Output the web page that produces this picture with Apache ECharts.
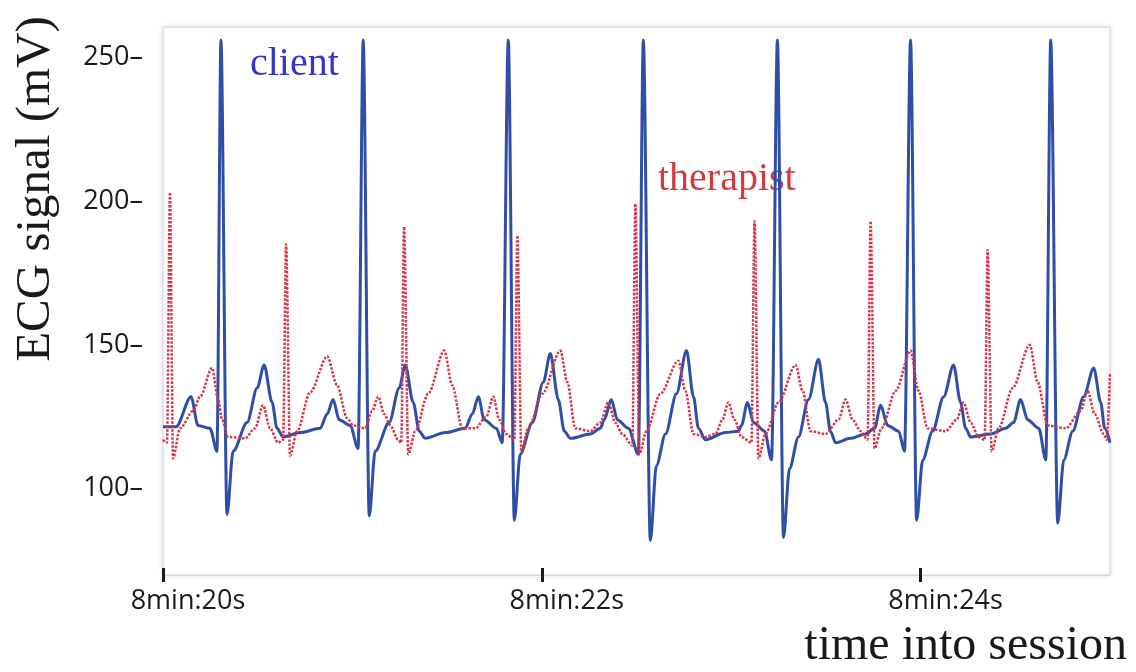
<!DOCTYPE html>
<html>
<head>
<meta charset="utf-8">
<title>ECG signal</title>
<script src="https://cdn.jsdelivr.net/npm/echarts@6/dist/echarts.min.js"></script>
<style>
  html, body { margin: 0; padding: 0; background: #ffffff; }
  #chart { width: 1136px; height: 672px; }
</style>
</head>
<body>
<div id="chart"></div>
<script>
// Time is in seconds into the session (500 s = 8min:20s); signal in mV.
const xTickValues = [500, 502, 504];
const xTickLabels = ['8min:20s', '8min:22s', '8min:24s'];
const yTickValues = [100, 150, 200, 250];

const clientTime = [
  500.000, 500.069, 500.148, 500.185, 500.248, 500.285, 500.306, 500.338, 500.370, 500.444,
  500.497, 500.534, 500.576, 500.602, 500.634, 500.724, 500.830, 500.867, 500.898, 500.930,
  500.988, 501.030, 501.057, 501.089, 501.120, 501.194, 501.247, 501.279, 501.321, 501.353,
  501.384, 501.490, 501.596, 501.633, 501.665, 501.696, 501.760, 501.791, 501.823, 501.855,
  501.886, 501.950, 502.008, 502.045, 502.087, 502.119, 502.151, 502.256, 502.309, 502.330,
  502.367, 502.399, 502.457, 502.510, 502.536, 502.573, 502.605, 502.653, 502.711, 502.764,
  502.801, 502.827, 502.864, 502.970, 503.038, 503.054, 503.086, 503.118, 503.176, 503.213,
  503.244, 503.276, 503.308, 503.355, 503.408, 503.461, 503.498, 503.524, 503.551, 503.630,
  503.709, 503.757, 503.789, 503.826, 503.884, 503.915, 503.947, 503.979, 504.011, 504.063,
  504.122, 504.174, 504.211, 504.238, 504.264, 504.370, 504.449, 504.491, 504.528, 504.565,
  504.624, 504.661, 504.687, 504.724, 504.756, 504.803, 504.861, 504.914, 504.951, 504.972,
  505.000
];
const clientSignal = [
  121.5, 121.5, 132, 122, 121, 113, 256, 91, 113, 123,
  135, 143, 130, 121, 118, 119.5, 121, 126, 131, 124,
  122, 114, 256, 90.5, 113, 123, 135, 143, 130, 120,
  117.5, 119.5, 121, 126, 132, 124, 121, 116, 256, 89,
  112, 123, 137, 147, 131, 120, 117.5, 119, 121, 124,
  131, 124, 121, 112, 256, 82, 108, 119, 133, 148,
  132, 121, 117, 119.5, 120, 122, 130, 123, 120, 110,
  256, 83, 107, 118, 131, 145, 130, 120, 116, 117.5,
  119, 121, 129, 122, 120, 113, 256, 89, 110, 120,
  132, 143, 130, 121, 118, 119, 121, 123, 131, 124,
  121, 110, 256, 88, 110, 120, 132, 142, 130, 121,
  116
];

const therapistTime = [
  500.000, 500.021, 500.037, 500.053, 500.090, 500.159, 500.196, 500.259, 500.291, 500.312,
  500.343, 500.433, 500.486, 500.528, 500.565, 500.608, 500.634, 500.650, 500.671, 500.708,
  500.777, 500.867, 500.919, 500.972, 501.004, 501.067, 501.104, 501.136, 501.168, 501.200,
  501.242, 501.258, 501.273, 501.295, 501.332, 501.400, 501.485, 501.527, 501.580, 501.649,
  501.707, 501.744, 501.775, 501.812, 501.855, 501.871, 501.892, 501.929, 502.003, 502.098,
  502.135, 502.177, 502.256, 502.309, 502.351, 502.388, 502.425, 502.478, 502.494, 502.515,
  502.552, 502.626, 502.721, 502.758, 502.801, 502.864, 502.917, 502.954, 502.985, 503.017,
  503.054, 503.107, 503.123, 503.144, 503.181, 503.250, 503.340, 503.377, 503.419, 503.498,
  503.567, 503.604, 503.641, 503.683, 503.720, 503.736, 503.757, 503.794, 503.868, 503.947,
  503.989, 504.037, 504.132, 504.190, 504.227, 504.264, 504.306, 504.338, 504.354, 504.375,
  504.412, 504.486, 504.576, 504.618, 504.671, 504.766, 504.845, 504.882, 504.919, 504.967,
  504.983, 505.000
];
const therapistSignal = [
  117, 116, 203, 110.5, 121, 127, 132, 142, 131, 124,
  118, 117.5, 121, 129, 121, 116, 117, 185, 111.5, 120,
  133.5, 146, 136, 124.5, 122, 121, 127, 132, 126, 122,
  117, 116, 191, 112, 120, 133, 148, 136, 121, 121,
  125, 132, 124, 119, 117, 188, 113, 121, 133, 148,
  137, 121, 120, 123, 130, 123, 119, 115, 199, 112,
  120, 133, 144.5, 134, 119, 118, 119, 124, 130, 124,
  118, 116, 193, 110.5, 119, 130, 143, 134, 120, 119,
  124, 131, 124, 120, 117, 193, 114, 121, 134, 148,
  134, 121, 120, 124, 130, 123, 118, 117, 183, 113,
  121, 135, 150, 137, 122, 121, 127, 134, 126, 119,
  117, 140
];

const pairs = (xs, ys) => xs.map((x, i) => [x, ys[i]]);

const chart = echarts.init(document.getElementById('chart'), null, { renderer: 'canvas' });

const serif = '"Liberation Serif", "DejaVu Serif", serif';
const sans = '"Open Sans", Lato, "Noto Sans", sans-serif';

chart.setOption({
  animation: false,
  backgroundColor: '#ffffff',
  grid: {
    left: 163, right: 26, top: 27, bottom: 97,
    show: true,
    backgroundColor: '#ffffff',
    borderColor: '#d6d6d6',
    borderWidth: 1,
    shadowColor: 'rgba(0,0,0,0.12)',
    shadowBlur: 5
  },
  xAxis: [
    {
      type: 'value',
      min: 500, max: 505,
      splitLine: { show: false },
      axisLine: { show: true, lineStyle: { color: '#d6d6d6', width: 1 } },
      axisTick: { show: true, customValues: xTickValues, length: 7, lineStyle: { color: '#1a1a1a', width: 3 } },
      axisLabel: {
        customValues: xTickValues,
        margin: 13,
        padding: [0, 0, 0, 50],
        color: '#1a1a1a',
        fontFamily: sans,
        fontSize: 27,
        formatter: v => xTickLabels[xTickValues.indexOf(v)] || ''
      }
    },
    {
      // inner half of the time tick marks
      type: 'value',
      min: 500, max: 505,
      position: 'bottom',
      splitLine: { show: false },
      axisLine: { show: false },
      axisTick: { show: true, inside: true, customValues: xTickValues, length: 7, lineStyle: { color: '#1a1a1a', width: 3 } },
      axisLabel: { show: false }
    }
  ],
  yAxis: {
    type: 'value',
    min: 70, max: 260.5,
    splitLine: { show: false },
    axisLine: { show: false },
    axisTick: { show: false },
    axisLabel: {
      customValues: yTickValues,
      margin: 20,
      color: '#1a1a1a',
      fontFamily: sans,
      fontSize: 27,
      formatter: v => v + '–'
    }
  },
  graphic: [
    {
      type: 'text', z: 1,
      x: 36, y: 189, rotation: Math.PI / 2,
      style: { text: 'ECG signal (mV)', font: '49px ' + serif, fill: '#1a1a1a', align: 'center', verticalAlign: 'middle' }
    },
    {
      type: 'text', z: 1,
      x: 1127, y: 670,
      style: { text: 'time into session', font: '48px ' + serif, fill: '#1a1a1a', align: 'right', verticalAlign: 'bottom' }
    },
    {
      type: 'text', z: 1,
      x: 250, y: 84,
      style: { text: 'client', font: '40px ' + serif, fill: '#3535c8', align: 'left', verticalAlign: 'bottom' }
    },
    {
      type: 'text', z: 1,
      x: 658, y: 199,
      style: { text: 'therapist', font: '40px ' + serif, fill: '#cf3b3f', align: 'left', verticalAlign: 'bottom' }
    }
  ],
  series: [
    {
      name: 'client',
      type: 'line',
      data: pairs(clientTime, clientSignal),
      showSymbol: false,
      smooth: 0.3,
      smoothMonotone: 'x',
      z: 3,
      lineStyle: { color: '#2f4ea8', width: 3 }
    },
    {
      name: 'therapist',
      type: 'line',
      data: pairs(therapistTime, therapistSignal),
      showSymbol: false,
      smooth: 0.3,
      smoothMonotone: 'x',
      z: 4,
      lineStyle: { color: '#d3374a', width: 2.5, type: [2.5, 1.5] }
    }
  ]
});
</script>
</body>
</html>
